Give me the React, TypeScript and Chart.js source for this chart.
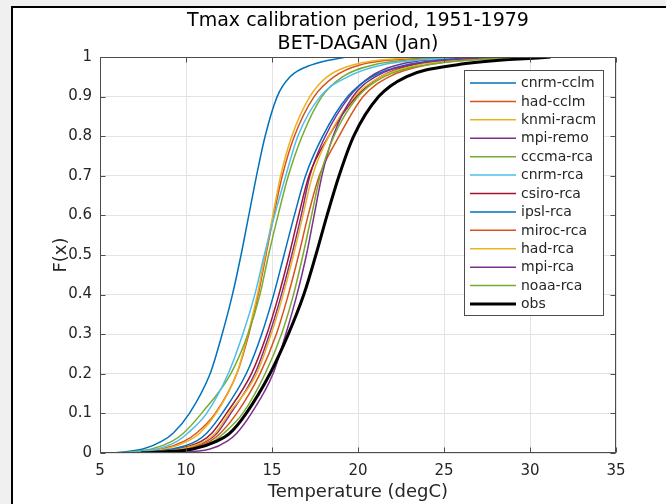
import React, { useEffect, useRef } from 'react';
import { Chart, registerables } from 'chart.js';

Chart.register(...registerables);

const TITLE_LINES = ['Tmax calibration period, 1951-1979', 'BET-DAGAN (Jan)'];
const X_LABEL = 'Temperature (degC)';
const Y_LABEL = 'F(x)';
const X_MIN = 5;
const X_MAX = 35;
const X_STEP = 5;
const Y_MIN = 0;
const Y_MAX = 1;
const Y_STEP = 0.1;

// cumulative probability levels at which each curve was read
const F_LEVELS = [0, 0.01, 0.03, 0.05, 0.1, 0.2, 0.3, 0.4, 0.5, 0.6, 0.7, 0.8, 0.9, 0.95, 0.98, 1];

// temperature (degC) at each F level
const cnrmCclm = [5.8, 7.5, 8.6, 9.25, 10.2, 11.4, 12.1, 12.7, 13.2, 13.65, 14.1, 14.6, 15.3, 16.05, 17.3, 19.3];
const hadCclm = [6.6, 8.6, 9.9, 10.6, 11.7, 12.95, 13.65, 14.2, 14.65, 15.1, 15.6, 16.3, 17.45, 18.6, 20.1, 24.5];
const knmiRacm = [6.8, 8.8, 10.1, 10.8, 11.75, 12.95, 13.6, 14.15, 14.6, 15.05, 15.5, 16.15, 17.2, 18.2, 19.7, 23.5];
const mpiRemo = [7.5, 9.8, 11.2, 11.8, 12.6, 14.0, 14.85, 15.55, 16.15, 16.7, 17.2, 18.1, 19.5, 20.7, 22.3, 27.5];
const cccmaRca = [6.2, 8.0, 9.2, 9.85, 10.9, 12.6, 13.6, 14.3, 14.8, 15.35, 15.95, 16.75, 17.9, 19.1, 20.9, 25.5];
const cnrmRca = [6.5, 8.3, 9.5, 10.1, 11.2, 12.45, 13.3, 14.0, 14.55, 15.15, 15.8, 16.5, 17.8, 19.4, 21.4, 26.5];
const csiroRca = [7.2, 9.5, 10.9, 11.5, 12.35, 13.8, 14.7, 15.4, 16.0, 16.55, 17.15, 18.3, 19.9, 21.3, 23.2, 28.5];
const ipslRca = [7.0, 9.2, 10.6, 11.2, 12.1, 13.5, 14.4, 15.1, 15.7, 16.3, 16.95, 17.95, 19.4, 20.8, 22.8, 27.0];
const mirocRca = [7.6, 10.0, 11.4, 12.0, 12.95, 14.3, 15.25, 15.95, 16.55, 17.1, 17.75, 18.9, 20.3, 21.8, 24.0, 29.0];
const hadRca = [7.3, 9.7, 11.1, 11.7, 12.5, 14.1, 14.95, 15.65, 16.25, 16.8, 17.35, 18.3, 19.8, 21.3, 23.5, 28.0];
const mpiRca = [9.0, 11.4, 12.4, 12.95, 13.8, 15.06, 15.8, 16.45, 17.0, 17.45, 17.9, 18.55, 19.7, 21.0, 23.0, 28.0];
const noaaRca = [7.8, 10.2, 11.6, 12.2, 13.3, 14.6, 15.55, 16.25, 16.8, 17.3, 17.8, 18.6, 20.0, 21.5, 24.0, 29.5];
const obs = [7.4, 10.4, 11.8, 12.55, 13.5, 14.88, 15.95, 16.85, 17.55, 18.2, 18.9, 19.75, 21.2, 22.8, 25.7, 31.2];

const SERIES_NAMES = [
  'cnrm-cclm', 'had-cclm', 'knmi-racm', 'mpi-remo', 'cccma-rca', 'cnrm-rca',
  'csiro-rca', 'ipsl-rca', 'miroc-rca', 'had-rca', 'mpi-rca', 'noaa-rca', 'obs',
];
const SERIES_VALUES = [
  cnrmCclm, hadCclm, knmiRacm, mpiRemo, cccmaRca, cnrmRca,
  csiroRca, ipslRca, mirocRca, hadRca, mpiRca, noaaRca, obs,
];
const SERIES_COLORS = [
  '#0072BD', '#D95319', '#EDB120', '#7E2F8E', '#77AC30', '#4DBEEE',
  '#A2142F', '#0072BD', '#D95319', '#EDB120', '#7E2F8E', '#77AC30', '#000000',
];
const SERIES_WIDTHS = [1.5, 1.5, 1.5, 1.5, 1.5, 1.5, 1.5, 1.5, 1.5, 1.5, 1.5, 1.5, 3];

const FONT = '"DejaVu Sans", sans-serif';
const AXIS_COLOR = '#262626';

const decorPlugin = {
  id: 'matlabDecor',
  afterDraw(chart: any) {
    const ctx = chart.ctx;
    const { left, right, top, bottom } = chart.chartArea;
    const xs = chart.scales.x;
    const ys = chart.scales.y;
    ctx.save();
    // axes box
    ctx.strokeStyle = '#4d4d4d';
    ctx.lineWidth = 1;
    const l = Math.round(left) + 0.5;
    const r = Math.round(right) - 0.5;
    const t = Math.round(top) + 0.5;
    const b = Math.round(bottom) - 0.5;
    ctx.strokeRect(l, t, r - l, b - t);
    // inward ticks
    const tl = 5;
    ctx.beginPath();
    xs.ticks.forEach((tk: any) => {
      const px = Math.round(xs.getPixelForValue(tk.value)) + 0.5;
      ctx.moveTo(px, b); ctx.lineTo(px, b - tl);
      ctx.moveTo(px, t); ctx.lineTo(px, t + tl);
    });
    ys.ticks.forEach((tk: any) => {
      const py = Math.round(ys.getPixelForValue(tk.value)) + 0.5;
      ctx.moveTo(l, py); ctx.lineTo(l + tl, py);
      ctx.moveTo(r, py); ctx.lineTo(r - tl, py);
    });
    ctx.stroke();

    // titles
    const cx = (left + right) / 2;
    ctx.fillStyle = '#000';
    ctx.textAlign = 'center';
    ctx.textBaseline = 'middle';
    ctx.font = `19px ${FONT}`;
    ctx.fillText(TITLE_LINES[0], cx, 21);
    ctx.fillText(TITLE_LINES[1], cx, 44);

    // axis labels
    ctx.fillStyle = AXIS_COLOR;
    ctx.font = `18px ${FONT}`;
    ctx.fillText(X_LABEL, cx, 492);
    ctx.save();
    ctx.translate(61, (top + bottom) / 2);
    ctx.rotate(-Math.PI / 2);
    ctx.fillText(Y_LABEL, 0, 0);
    ctx.restore();

    // legend
    const lx = 464.5, ly = 70.5, lw = 139, lh = 245;
    ctx.fillStyle = '#fff';
    ctx.fillRect(lx, ly, lw, lh);
    ctx.strokeStyle = '#4d4d4d';
    ctx.lineWidth = 1;
    ctx.strokeRect(lx, ly, lw, lh);
    ctx.font = `14px ${FONT}`;
    ctx.textAlign = 'left';
    ctx.textBaseline = 'middle';
    SERIES_NAMES.forEach((name, i) => {
      const y = 83 + i * 18.42;
      ctx.strokeStyle = SERIES_COLORS[i];
      ctx.lineWidth = SERIES_WIDTHS[i];
      ctx.beginPath();
      ctx.moveTo(470, y);
      ctx.lineTo(516, y);
      ctx.stroke();
      ctx.fillStyle = AXIS_COLOR;
      ctx.fillText(name, 521, y + 0.5);
    });
    ctx.restore();
  },
};

export default function App() {
  const canvasRef = useRef<HTMLCanvasElement | null>(null);

  useEffect(() => {
    document.body.style.margin = '0';
    const canvas = canvasRef.current;
    if (!canvas) return;
    const datasets = SERIES_NAMES.map((name, i) => ({
      label: name,
      data: SERIES_VALUES[i].map((v, k) => ({ x: v, y: F_LEVELS[k] })),
      borderColor: SERIES_COLORS[i],
      backgroundColor: SERIES_COLORS[i],
      borderWidth: SERIES_WIDTHS[i],
      pointRadius: 0,
      showLine: true,
      fill: false,
      cubicInterpolationMode: 'monotone' as const,
      order: SERIES_NAMES.length - 1 - i,
    }));
    const chart = new Chart(canvas, {
      type: 'scatter',
      data: { datasets },
      options: {
        responsive: false,
        animation: false,
        devicePixelRatio: 1,
        layout: { padding: { top: 57, right: 50, left: 0, bottom: 0 } },
        plugins: {
          legend: { display: false },
          title: { display: false },
          tooltip: { enabled: false },
        },
        scales: {
          x: {
            type: 'linear',
            min: X_MIN,
            max: X_MAX,
            ticks: {
              stepSize: X_STEP,
              color: AXIS_COLOR,
              font: { family: FONT, size: 15 },
              padding: 9,
              maxRotation: 0,
            },
            grid: { color: '#e3e3e3', drawTicks: false, lineWidth: 1 },
            border: { display: false },
            afterFit: (s: any) => { s.height = 51; },
          },
          y: {
            type: 'linear',
            min: Y_MIN,
            max: Y_MAX,
            ticks: {
              stepSize: Y_STEP,
              color: AXIS_COLOR,
              font: { family: FONT, size: 15 },
              padding: 8,
              callback: (v: any) => String(+Number(v).toFixed(1)),
            },
            grid: { color: '#e3e3e3', drawTicks: false, lineWidth: 1 },
            border: { display: false },
            afterFit: (s: any) => { s.width = 100; },
          },
        },
      },
      plugins: [decorPlugin],
    });
    return () => chart.destroy();
  }, []);

  return (
    <div style={{ position: 'relative', width: 666, height: 504, background: '#f0f0f0', overflow: 'hidden' }}>
      <div
        style={{
          position: 'absolute', left: 11, top: 6, width: 700, height: 600,
          background: '#fff', borderLeft: '2px solid #000', borderTop: '2px solid #000',
        }}
      />
      <canvas ref={canvasRef} width={666} height={504} style={{ position: 'absolute', left: 0, top: 0 }} />
    </div>
  );
}
